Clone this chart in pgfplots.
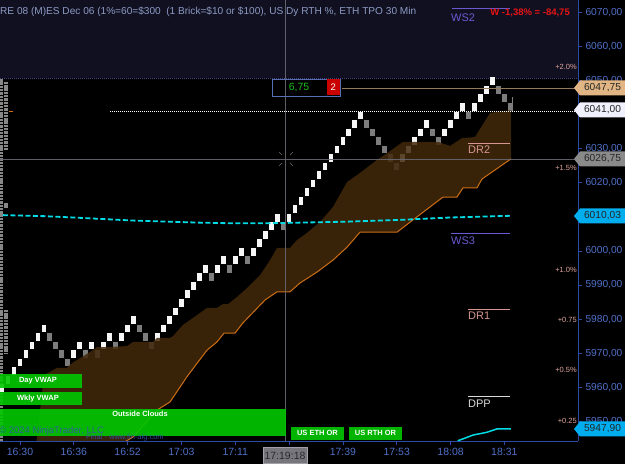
\documentclass[border=0pt]{standalone}
\usepackage{pgfplots}
\usepackage{pgfplotstable}
\pgfplotsset{compat=1.18}
\usepackage{fontspec}
\setmainfont{Liberation Sans}

\definecolor{bgnavy}{RGB}{17,16,33}
\definecolor{axblue}{RGB}{45,75,165}
\definecolor{lblblue}{RGB}{80,112,200}
\definecolor{titlecol}{RGB}{140,155,195}
\definecolor{cloud}{RGB}{66,40,10}
\definecolor{cloudline}{RGB}{205,110,20}
\definecolor{vwap}{RGB}{0,220,230}
\definecolor{upbrick}{RGB}{246,246,246}
\definecolor{dnbrick}{RGB}{125,125,125}
\definecolor{pinkl}{RGB}{215,150,145}
\definecolor{purpl}{RGB}{105,90,210}
\definecolor{pctcol}{RGB}{225,165,155}
\definecolor{greenbox}{RGB}{0,200,0}
\definecolor{tanline}{RGB}{150,120,95}
\definecolor{tanbox}{RGB}{225,182,132}
\definecolor{wmblue}{RGB}{55,85,175}
\definecolor{crossgray}{RGB}{105,105,115}
\definecolor{tpogray}{RGB}{135,135,135}
\definecolor{bandline}{RGB}{70,70,130}
\definecolor{redtxt}{RGB}{230,20,20}
\definecolor{redbox}{RGB}{200,0,0}
\definecolor{greentxt}{RGB}{30,190,30}
\definecolor{xboxfill}{RGB}{118,118,124}
\definecolor{xboxdraw}{RGB}{160,160,170}
\definecolor{xboxtxt}{RGB}{40,40,48}

% one Renko brick: 4.8 px wide, 7.8 px tall (2.5 points at 3.41 px per point, less a gap)
\pgfdeclareplotmark{brick}{%
  \pgfpathrectangle{\pgfpoint{-2.4pt}{-3.9pt}}{\pgfpoint{4.8pt}{7.8pt}}%
  \pgfusepathqfill}

\pgfplotstableread{
x y
-2 5959.75
-1 5962.25
0 5964.75
1 5967.25
2 5969.75
3 5972.25
4 5974.75
5 5977.25
10 5969.75
11 5972.25
13 5972.25
15 5972.25
16 5974.75
18 5974.75
19 5977.25
20 5979.75
24 5974.75
25 5977.25
26 5979.75
27 5982.25
28 5984.75
29 5987.25
30 5989.75
31 5992.25
32 5994.75
34 5994.75
35 5997.25
37 5997.25
38 5999.75
40 5999.75
41 6002.25
42 6004.75
43 6007.25
44 6009.75
46 6009.75
47 6012.25
48 6014.75
49 6017.25
50 6019.75
51 6022.25
52 6024.75
53 6027.25
54 6029.75
55 6032.25
56 6034.75
57 6037.25
58 6039.75
65 6027.25
66 6029.75
67 6032.25
68 6034.75
69 6037.25
72 6034.75
73 6037.25
74 6039.75
75 6042.25
77 6042.25
78 6044.75
79 6047.25
80 6049.75
}\upbricks

\pgfplotstableread{
x y
6 5974.75
7 5972.25
8 5969.75
9 5967.25
12 5969.75
14 5969.75
17 5972.25
21 5977.25
22 5974.75
23 5972.25
33 5992.25
36 5994.75
39 5997.25
45 6007.25
59 6037.25
60 6034.75
61 6032.25
62 6029.75
63 6027.25
64 6024.75
70 6034.75
71 6032.25
76 6039.75
81 6047.25
82 6044.75
83 6042.25
}\dnbricks

\newcommand{\pbox}[3]{%
  \fill[#2] (574,{464-#1}) -- (580,{464-#1+7.5}) -- (625,{464-#1+7.5}) -- (625,{464-#1-7.5}) -- (580,{464-#1-7.5}) -- cycle;
  \node[font=\fontsize{10.2}{12}\selectfont, text=black!85, inner sep=0pt] at (602.5,{464-#1}) {#3};}

\begin{document}
\begin{tikzpicture}[x=1pt,y=1pt]
\fill[black] (0,0) rectangle (625,464);
\begin{axis}[
  at={(0pt,23pt)}, anchor=south west, scale only axis,
  width=578pt, height=441pt,
  xmin=-2.341, xmax=94.31, ymin=5944.24, ymax=6073.61,
  axis x line*=bottom, axis y line*=right,
  axis line style={draw=axblue, line width=0.9pt, -},
  tick align=outside, major tick length=4pt,
  tick style={draw=axblue, line width=0.8pt},
  xtick={1,10,19,28,37,46,55,64,73,82},
  xticklabels={16:30,16:36,16:52,17:03,17:11,{},17:39,17:53,18:08,18:31},
  ytick={5950,5960,5970,5980,5990,6000,6010,6020,6030,6040,6050,6060,6070},
  yticklabels={{5950,00},{5960,00},{5970,00},{5980,00},{5990,00},{6000,00},{},{6020,00},{6030,00},{},{6050,00},{6060,00},{6070,00}},
  xticklabel style={font=\fontsize{10.5}{12}\selectfont, text=lblblue},
  yticklabel style={font=\fontsize{10.2}{12}\selectfont, text=lblblue},
  clip mode=individual,
]
% top band
\addplot[draw=none, fill=bgnavy] coordinates {(-2.341,6050.7) (94.31,6050.7) (94.31,6073.61) (-2.341,6073.61)} -- cycle;
\addplot[bandline, line width=0.8pt, dash pattern=on 1pt off 1pt] coordinates {(-2.341,6050.7) (94.31,6050.7)};
% TPO profile
\addplot[tpogray, line width=3.4pt, dash pattern=on 2.4pt off 0.9pt] coordinates {(-2.05,6050.4) (-2.05,5944.24)};
\addplot[tpogray, line width=4.4pt, dash pattern=on 2.4pt off 0.9pt] coordinates {(-1.34,6049.6) (-1.34,6029.6)};
\addplot[tpogray, line width=4.4pt] coordinates {(-1.34,6014.1) (-1.34,6012.6)};
\addplot[tpogray, line width=4.4pt, dash pattern=on 2.4pt off 0.9pt] coordinates {(-1.34,5982.7) (-1.34,5970.1)};
\addplot[cloudline, line width=1pt] coordinates {(-0.84,6040.8) (-0.17,6040.8)};
% bricks
\addplot[only marks, mark=brick, mark options={fill=upbrick}, color=upbrick] table {\upbricks};
\addplot[only marks, mark=brick, mark options={fill=dnbrick}, color=dnbrick] table {\dnbricks};
\addplot[gray, line width=0.7pt] coordinates {(83.4,6043.5) (83.4,6045.2)};
% cloud
\addplot[draw=none, fill=cloud, fill opacity=0.85] coordinates {
(3.68,5942.8) (5.02,5963.6) (5.69,5964.2) (7.19,5965.7) (8.86,5965.7) (9.70,5967.1)
(13.21,5970.9) (13.88,5971.8) (16.05,5971.8) (18.90,5972.1) (19.90,5973.3) (23.24,5973.3)
(23.91,5974.5) (26.09,5974.5) (26.59,5975.0) (28.26,5978.3) (31.10,5981.8) (32.27,5983.3)
(33.95,5983.3) (34.95,5984.4) (35.79,5984.4) (37.29,5986.5) (38.96,5989.1) (41.14,5992.9)
(42.81,5997.3) (43.98,6000.9) (46.15,6000.9) (47.32,6003.2) (49.0,6005.3) (51.17,6008.5)
(53.34,6012.9) (55.69,6020.2) (57.86,6022.9) (60.70,6026.7) (62.88,6029.3) (65.05,6032.0)
(70.90,6032.0) (72.91,6030.8) (74.92,6033.1) (77.09,6033.4) (79.60,6040.5) (83.11,6041.3)
(83.11,6027.0) (78.26,6021.1) (77.42,6018.5) (75.08,6018.5) (74.08,6015.8) (71.74,6015.8)
(66.72,6009.1) (64.05,6005.5) (57.86,6005.5) (55.69,6001.1) (53.34,5997.3) (50.67,5993.8)
(47.83,5990.6) (46.15,5988.0) (43.98,5988.0) (41.97,5985.6) (38.29,5978.9) (36.96,5975.9)
(35.12,5975.9) (33.95,5973.3) (32.27,5970.9) (28.93,5963.1) (26.09,5955.7) (23.91,5953.3)
(19.90,5945.4) (17.39,5942.8)} -- cycle;
\addplot[cloudline, line width=1pt] coordinates {
(17.39,5942.8) (19.90,5945.4) (23.91,5953.3) (26.09,5955.7) (28.93,5963.1) (32.27,5970.9)
(33.95,5973.3) (35.12,5975.9) (36.96,5975.9) (38.29,5978.9) (41.97,5985.6) (43.98,5988.0)
(46.15,5988.0) (47.83,5990.6) (50.67,5993.8) (53.34,5997.3) (55.69,6001.1) (57.86,6005.5)
(64.05,6005.5) (66.72,6009.1) (71.74,6015.8) (74.08,6015.8) (75.08,6018.5) (77.42,6018.5)
(78.26,6021.1) (83.11,6027.0)};
% VWAP lines
\addplot[vwap, line width=1.8pt, dash pattern=on 5pt off 2.5pt] coordinates {
(-1.84,6010.5) (5,6010.2) (10,6009.8) (14.4,6009.4) (20,6008.9) (25.6,6008.6) (31,6008.3)
(36.6,6008.1) (42,6008.1) (47.8,6008.3) (56,6008.6) (64.5,6009.1) (72.9,6009.8) (79,6010.1) (82.9,6010.3)};
\addplot[vwap, line width=1.5pt] coordinates {(74.2,5944.3) (76.8,5946.0) (79.1,5946.8) (80.8,5947.8) (83.1,5947.8)};
% horizontal levels
\addplot[tanline, line width=0.9pt] coordinates {(54.85,6047.75) (94.31,6047.75)};
\addplot[white, line width=1pt, dash pattern=on 1pt off 1pt] coordinates {(16.05,6041) (94.31,6041)};
\addplot[pinkl, line width=0.9pt] coordinates {(75.9,6031.6) (82.9,6031.6)};
\addplot[purpl, line width=0.9pt] coordinates {(73.1,6005.0) (82.9,6005.0)};
\addplot[pinkl, line width=0.9pt] coordinates {(75.9,5982.7) (82.9,5982.7)};
\addplot[white!85!black, line width=0.9pt] coordinates {(75.9,5957.2) (82.9,5957.2)};
\addplot[purpl, line width=0.9pt] coordinates {(73.2,6071.0) (82.9,6071.0)};
% crosshair
\addplot[crossgray, line width=1.4pt, opacity=0.9] coordinates {(-2.341,6026.75) (94.31,6026.75)};
\addplot[crossgray, line width=1.6pt, opacity=0.9] coordinates {(45.4,5944.24) (45.4,6073.61)};
\end{axis}

% crosshair centre marks
\draw[crossgray, line width=0.7pt] (279,312) -- (282,309) (293,312) -- (290,309) (279,298) -- (282,301) (293,298) -- (290,301);

% title and header texts
\node[anchor=west, inner sep=0pt, font=\fontsize{10.1}{12}\selectfont, text=titlecol] at (0,452) {RE 08 (M)ES Dec 06 (1\%=60=\$300\ \ (1 Brick=\$10 or \$100), US Dy RTH \%, ETH TPO 30 Min};
\node[anchor=east, inner sep=0pt, font=\bfseries\fontsize{9.5}{12}\selectfont, text=redtxt] at (570,451) {W -1,38\% = -84,75};

% level labels
\node[anchor=west, inner sep=0pt, font=\fontsize{11}{12}\selectfont, text=purpl] at (451,446) {WS2};
\node[anchor=west, inner sep=0pt, font=\fontsize{11}{12}\selectfont, text=pinkl] at (468,314) {DR2};
\node[anchor=west, inner sep=0pt, font=\fontsize{11}{12}\selectfont, text=purpl] at (451,223) {WS3};
\node[anchor=west, inner sep=0pt, font=\fontsize{11}{12}\selectfont, text=pinkl] at (468,148) {DR1};
\node[anchor=west, inner sep=0pt, font=\fontsize{11}{12}\selectfont, text=white!85!black] at (468,60) {DPP};

% percent labels
\foreach \yy/\tt in {66.7/+2.0\%, 168/+1.5\%, 270/+1.0\%, 320/+0.75, 370/+0.5\%, 421/+0.25}
  \node[anchor=east, inner sep=0pt, font=\fontsize{7.5}{9}\selectfont, text=pctcol] at (577,{464-\yy}) {\tt};

% price boxes
\pbox{88}{tanbox}{6047,75}
\pbox{110}{white!94!blue}{6041,00}
\pbox{159}{white!54!black}{6026,75}
\pbox{216}{cyan}{6010,03}
\pbox{429}{cyan}{5947,90}

% 6,75 box
\draw[axblue!80!white, line width=0.9pt] (272.5,368) rectangle (340,385);
\fill[redbox] (327,368.5) rectangle (339.5,384.5);
\node[font=\fontsize{10.5}{12}\selectfont, text=greentxt, inner sep=0pt] at (299,376.5) {6,75};
\node[font=\fontsize{9.5}{12}\selectfont, text=white, inner sep=0pt] at (333.3,376.5) {2};

% green boxes
\begin{scope}[fill opacity=0.9]
\fill[greenbox] (0,76) rectangle (82,90);
\fill[greenbox] (0,59) rectangle (82,72);
\fill[greenbox] (0,28) rectangle (286,55);
\fill[greenbox] (291,24) rectangle (344,37);
\fill[greenbox] (349,24) rectangle (402,37);
\end{scope}
\node[font=\bfseries\fontsize{7.5}{9}\selectfont, text=white, inner sep=0pt] at (38,83) {Day VWAP};
\node[font=\bfseries\fontsize{7.5}{9}\selectfont, text=white, inner sep=0pt] at (38,65.5) {Wkly VWAP};
\node[font=\bfseries\fontsize{7.5}{9}\selectfont, text=white, inner sep=0pt] at (140,50) {Outside Clouds};
\node[font=\bfseries\fontsize{7.5}{9}\selectfont, text=white, inner sep=0pt] at (317.5,31) {US ETH OR};
\node[font=\bfseries\fontsize{7.5}{9}\selectfont, text=white, inner sep=0pt] at (375.5,31) {US RTH OR};

% watermarks
\node[anchor=west, inner sep=0pt, font=\fontsize{9.5}{11}\selectfont, text=wmblue, text opacity=0.85] at (-1,33) {© 2024 NinjaTrader, LLC};
\node[anchor=west, inner sep=0pt, font=\fontsize{7.5}{9}\selectfont, text=wmblue, text opacity=0.85] at (86,26) {Final - www.fin-alg.com};

% crosshair time label
\draw[fill=xboxfill, draw=xboxdraw, line width=0.8pt] (263,0.5) rectangle (307,17);
\node[font=\fontsize{10.5}{12}\selectfont, text=xboxtxt, inner sep=0pt] at (285,8.5) {17:19:18};

\pgfresetboundingbox
\useasboundingbox (0,0) rectangle (625,464);
\end{tikzpicture}
\end{document}
